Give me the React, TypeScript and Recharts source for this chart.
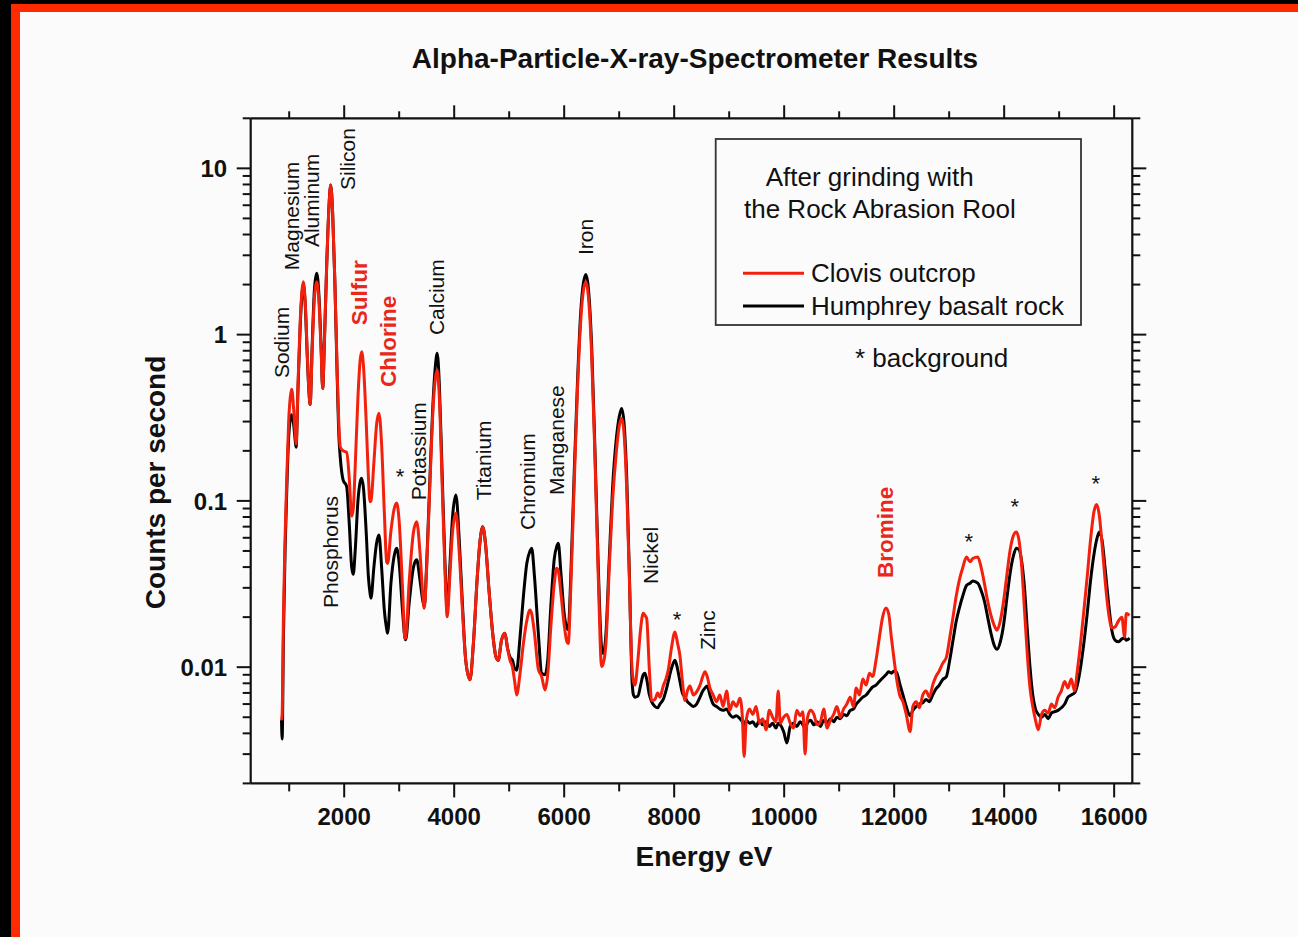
import React from 'react';
import { LineChart, Line, XAxis, YAxis, ReferenceDot } from 'recharts';

const FONT = '"Liberation Sans", Arial, Helvetica, sans-serif';
const RED = '#f2200c';
const LABEL_RED = '#e8281a';
const INK = '#111111';

const energyEv = [
  860, 872, 895, 925, 954, 990, 1020, 1045, 1080, 1110, 1125, 1160, 1200, 1230, 1256, 1290, 1330, 1360, 1380, 1420,
  1460, 1500, 1540, 1580, 1609, 1640, 1680, 1720, 1754, 1790, 1830, 1870, 1905, 1930, 1980, 2045, 2090, 2136, 2165, 2200,
  2250, 2290, 2318, 2350, 2400, 2440, 2469, 2487, 2540, 2590, 2632, 2680, 2730, 2772, 2790, 2850, 2910, 2954, 3000, 3060,
  3105, 3118, 3180, 3260, 3318, 3380, 3430, 3456, 3500, 3560, 3620, 3660, 3692, 3730, 3780, 3830, 3874, 3920, 3970, 4032,
  4090, 4150, 4210, 4287, 4350, 4420, 4470, 4518, 4570, 4630, 4700, 4760, 4801, 4860, 4923, 4970, 5015, 5060, 5100, 5136,
  5196, 5260, 5320, 5378, 5409, 5460, 5530, 5590, 5650, 5700, 5760, 5820, 5863, 5893, 5940, 6000, 6050, 6074, 6120, 6180,
  6240, 6300, 6350, 6396, 6440, 6500, 6560, 6620, 6681, 6710, 6760, 6820, 6880, 6950, 7000, 7045, 7090, 7140, 7190, 7226,
  7260, 7287, 7340, 7390, 7437, 7468, 7499, 7550, 7590, 7650, 7700, 7741, 7801, 7850, 7892, 7950, 8014, 8060, 8105, 8150,
  8196, 8240, 8287, 8350, 8408, 8470, 8520, 8560, 8600, 8650, 8710, 8770, 8830, 8890, 8953, 9010, 9070, 9130, 9196, 9240,
  9272, 9310, 9370, 9430, 9490, 9550, 9610, 9670, 9730, 9790, 9850, 9892, 9930, 9990, 10050, 10110, 10170, 10230, 10290, 10340,
  10380, 10420, 10480, 10540, 10600, 10660, 10720, 10780, 10840, 10900, 10960, 11020, 11080, 11140, 11200, 11260, 11310, 11370, 11430, 11490,
  11550, 11610, 11670, 11730, 11790, 11850, 11900, 11950, 12000, 12045, 12100, 12160, 12220, 12290, 12340, 12400, 12460, 12520, 12580, 12640,
  12700, 12760, 12820, 12880, 12950, 13010, 13070, 13130, 13190, 13250, 13315, 13380, 13430, 13520, 13580, 13640, 13700, 13760, 13820, 13870,
  13930, 13990, 14050, 14110, 14170, 14220, 14270, 14320, 14370, 14420, 14470, 14520, 14570, 14620, 14680, 14740, 14800, 14860, 14920, 14980,
  15040, 15100, 15160, 15220, 15280, 15330, 15390, 15450, 15510, 15570, 15630, 15680, 15730, 15780, 15840, 15900, 15960, 16020, 16080, 16140,
  16190, 16220, 16280,
];

const clovisCps = [
  0.0048, 0.0052, 0.02, 0.06, 0.13, 0.3, 0.42, 0.47, 0.36, 0.25, 0.22, 0.5, 1.2, 1.8, 2.08, 1.6, 0.75, 0.45, 0.38, 0.85,
  1.7, 2.08, 1.6, 0.8, 0.475, 0.9, 2.5, 5.6, 7.94, 5.4, 2.1, 0.65, 0.28, 0.21, 0.2, 0.196, 0.14, 0.081, 0.09, 0.16,
  0.42, 0.7, 0.79, 0.65, 0.3, 0.14, 0.099, 0.1, 0.17, 0.29, 0.337, 0.22, 0.085, 0.043, 0.042, 0.066, 0.09, 0.097, 0.075, 0.03,
  0.0149, 0.015, 0.032, 0.065, 0.075, 0.048, 0.027, 0.0226, 0.04, 0.13, 0.38, 0.55, 0.61, 0.42, 0.13, 0.04, 0.0201, 0.035, 0.065, 0.0842,
  0.05, 0.022, 0.011, 0.0084, 0.014, 0.035, 0.058, 0.07, 0.055, 0.03, 0.016, 0.0115, 0.011, 0.0145, 0.016, 0.013, 0.011, 0.01, 0.0082, 0.0068,
  0.0091, 0.014, 0.019, 0.0221, 0.021, 0.016, 0.0097, 0.0088, 0.0073, 0.009, 0.018, 0.032, 0.0394, 0.038, 0.028, 0.018, 0.0142, 0.0139, 0.03, 0.12,
  0.45, 1.2, 1.85, 2.08, 1.7, 0.75, 0.18, 0.035, 0.0101, 0.0105, 0.014, 0.04, 0.1, 0.2, 0.28, 0.314, 0.25, 0.11, 0.03, 0.011,
  0.0082, 0.0078, 0.011, 0.017, 0.0211, 0.0205, 0.0197, 0.0095, 0.0063, 0.0064, 0.007, 0.0066, 0.0077, 0.0085, 0.0096, 0.013, 0.0163, 0.014, 0.0117, 0.0082,
  0.0063, 0.0072, 0.0077, 0.0068, 0.0071, 0.0078, 0.0088, 0.0094, 0.0088, 0.0075, 0.0068, 0.0062, 0.0068, 0.0058, 0.0072, 0.0055, 0.0062, 0.0058, 0.0065, 0.005,
  0.0029, 0.0048, 0.0056, 0.0052, 0.0058, 0.0046, 0.0049, 0.0042, 0.0055, 0.005, 0.0047, 0.0072, 0.0046, 0.005, 0.0052, 0.0046, 0.0043, 0.0055, 0.0051, 0.0054,
  0.003, 0.0049, 0.0055, 0.0052, 0.0045, 0.0047, 0.0056, 0.0043, 0.0048, 0.0052, 0.0058, 0.005, 0.0056, 0.006, 0.0066, 0.0058, 0.0075, 0.0068, 0.0085, 0.0078,
  0.0092, 0.0088, 0.011, 0.015, 0.02, 0.0227, 0.021, 0.015, 0.011, 0.0085, 0.0068, 0.0062, 0.0052, 0.0041, 0.0058, 0.0062, 0.0057, 0.0068, 0.0072, 0.0066,
  0.0078, 0.0088, 0.0095, 0.0105, 0.0115, 0.015, 0.02, 0.027, 0.034, 0.04, 0.046, 0.043, 0.045, 0.046, 0.04, 0.032, 0.025, 0.0205, 0.0178, 0.0167,
  0.019, 0.025, 0.036, 0.051, 0.062, 0.065, 0.058, 0.04, 0.022, 0.012, 0.0075, 0.0058, 0.0048, 0.0042, 0.0052, 0.0055, 0.0053, 0.006, 0.0057, 0.0066,
  0.0072, 0.0082, 0.0075, 0.0085, 0.0072, 0.0095, 0.014, 0.022, 0.035, 0.058, 0.085, 0.095, 0.082, 0.055, 0.032, 0.021, 0.0172, 0.0175, 0.019, 0.02,
  0.0152, 0.021, 0.0205,
];

const humphreyCps = [
  0.0048, 0.0037, 0.015, 0.05, 0.11, 0.24, 0.31, 0.33, 0.29, 0.23, 0.21, 0.47, 1.12, 1.7, 2.0, 1.55, 0.72, 0.45, 0.38, 0.9,
  1.9, 2.34, 1.75, 0.85, 0.475, 0.9, 2.5, 5.6, 7.94, 5.4, 2.1, 0.6, 0.24, 0.18, 0.134, 0.122, 0.075, 0.04, 0.0362, 0.05,
  0.1, 0.13, 0.137, 0.12, 0.065, 0.035, 0.028, 0.026, 0.04, 0.056, 0.0624, 0.04, 0.022, 0.017, 0.016, 0.032, 0.047, 0.0519, 0.042, 0.022,
  0.015, 0.0146, 0.024, 0.04, 0.0442, 0.033, 0.025, 0.0231, 0.042, 0.14, 0.42, 0.66, 0.774, 0.5, 0.15, 0.045, 0.022, 0.04, 0.08, 0.1085,
  0.06, 0.024, 0.011, 0.0084, 0.014, 0.035, 0.057, 0.07, 0.055, 0.03, 0.016, 0.0115, 0.011, 0.0145, 0.016, 0.013, 0.0115, 0.011, 0.0098, 0.0096,
  0.015, 0.027, 0.042, 0.05, 0.052, 0.035, 0.016, 0.0092, 0.009, 0.011, 0.024, 0.045, 0.053, 0.0556, 0.037, 0.021, 0.0172, 0.0168, 0.035, 0.14,
  0.5, 1.35, 2.05, 2.3, 1.9, 0.85, 0.2, 0.04, 0.013, 0.0121, 0.016, 0.045, 0.12, 0.24, 0.32, 0.36, 0.29, 0.13, 0.032, 0.0095,
  0.0068, 0.0066, 0.0067, 0.0078, 0.009, 0.0092, 0.0085, 0.0068, 0.0062, 0.0058, 0.0057, 0.006, 0.0064, 0.0072, 0.0082, 0.0098, 0.011, 0.0098, 0.0082, 0.007,
  0.0066, 0.0062, 0.006, 0.0058, 0.006, 0.0066, 0.0072, 0.0075, 0.0077, 0.0068, 0.006, 0.0058, 0.0056, 0.0055, 0.0056, 0.0052, 0.005, 0.0051, 0.0049, 0.0047,
  0.0045, 0.0048, 0.0046, 0.0047, 0.0044, 0.0048, 0.0045, 0.0047, 0.0044, 0.0046, 0.0043, 0.0046, 0.0045, 0.0041, 0.0035, 0.0044, 0.0046, 0.0044, 0.0047, 0.0045,
  0.0043, 0.0046, 0.0048, 0.0045, 0.0047, 0.0044, 0.0048, 0.0046, 0.0049, 0.0047, 0.005, 0.0049, 0.0052, 0.0051, 0.0055, 0.0056, 0.006, 0.0063, 0.0066, 0.0068,
  0.0072, 0.0076, 0.0078, 0.0082, 0.0086, 0.009, 0.0094, 0.0092, 0.0095, 0.0093, 0.008, 0.0068, 0.0058, 0.0051, 0.0055, 0.0058, 0.006, 0.0061, 0.0064, 0.0062,
  0.0068, 0.0074, 0.0078, 0.0084, 0.0088, 0.011, 0.0145, 0.019, 0.023, 0.027, 0.031, 0.032, 0.033, 0.032, 0.029, 0.025, 0.02, 0.016, 0.0135, 0.0128,
  0.0142, 0.018, 0.026, 0.037, 0.047, 0.052, 0.051, 0.043, 0.03, 0.017, 0.01, 0.0068, 0.0056, 0.0052, 0.005, 0.0052, 0.0049, 0.0053, 0.0054, 0.0055,
  0.0057, 0.006, 0.0066, 0.0068, 0.007, 0.0078, 0.01, 0.014, 0.021, 0.033, 0.047, 0.058, 0.065, 0.058, 0.038, 0.024, 0.0165, 0.0145, 0.0142, 0.0148,
  0.015, 0.0145, 0.015,
];

const xMajorTicks = [2000, 4000, 6000, 8000, 10000, 12000, 14000, 16000];
const xMinorTicks = [1000, 3000, 5000, 7000, 9000, 11000, 13000, 15000];
const yMajorTicks = [0.01, 0.1, 1, 10];
const yMinorTicks = [
  0.002, 0.003, 0.004, 0.005, 0.006, 0.007, 0.008, 0.009,
  0.02, 0.03, 0.04, 0.05, 0.06, 0.07, 0.08, 0.09,
  0.2, 0.3, 0.4, 0.5, 0.6, 0.7, 0.8, 0.9,
  2, 3, 4, 5, 6, 7, 8, 9, 20,
];

const elementNames = [
  'Sodium', 'Magnesium', 'Aluminum', 'Silicon', 'Sulfur', 'Chlorine', 'Calcium', 'Phosphorus', 'Potassium',
  'Titanium', 'Chromium', 'Manganese', 'Iron', 'Nickel', 'Zinc', 'Bromine',
];
const elementLabelEnergy = [851, 1033, 1414, 2069, 2287, 2814, 3687, 1742, 3342, 4524, 5342, 5869, 6396, 7578, 8614, 11850];
const elementLabelCount = [0.548, 2.44, 3.36, 7.41, 1.14, 0.484, 0.994, 0.0227, 0.101, 0.101, 0.0668, 0.1085, 3.01, 0.0316, 0.01268, 0.0344];
const elementHighlighted = [false, false, false, false, true, true, false, false, false, false, false, false, false, false, false, true];

const backgroundMarkEnergy = [3014, 8051, 13358, 14195, 15668];
const backgroundMarkCount = [0.149, 0.0206, 0.0607, 0.0985, 0.1355];

const data = energyEv.map((e, i) => ({ energy: e, clovis: clovisCps[i], humphrey: humphreyCps[i] }));
const xTicks = [...xMinorTicks, ...xMajorTicks].sort((a, b) => a - b);
const yTicks = [...yMinorTicks, ...yMajorTicks].sort((a, b) => a - b);

const AXIS_W = 2.2;

function BottomTick(props: any) {
  const { x, y, payload } = props;
  const v = payload.value;
  const major = xMajorTicks.includes(v);
  return (
    <g>
      <line x1={x} x2={x} y1={y} y2={y + (major ? 14 : 8)} stroke={INK} strokeWidth={2} />
      {major && (
        <text x={x} y={y + 42} textAnchor="middle" fontFamily={FONT} fontWeight="bold" fontSize={24} fill={INK}>
          {v}
        </text>
      )}
    </g>
  );
}

function TopTick(props: any) {
  const { x, y, payload } = props;
  const major = xMajorTicks.includes(payload.value);
  return <line x1={x} x2={x} y1={y} y2={y - (major ? 13 : 7)} stroke={INK} strokeWidth={2} />;
}

function LeftTick(props: any) {
  const { x, y, payload } = props;
  const v = payload.value;
  const major = yMajorTicks.includes(v);
  return (
    <g>
      <line x1={x} x2={x - (major ? 14 : 8)} y1={y} y2={y} stroke={INK} strokeWidth={2} />
      {major && (
        <text x={x - 23.5} y={y + 8.6} textAnchor="end" fontFamily={FONT} fontWeight="bold" fontSize={24} fill={INK}>
          {String(v)}
        </text>
      )}
    </g>
  );
}

function RightTick(props: any) {
  const { x, y, payload } = props;
  const major = yMajorTicks.includes(payload.value);
  return <line x1={x} x2={x + (major ? 14 : 8)} y1={y} y2={y} stroke={INK} strokeWidth={2} />;
}

export default function App() {
  return (
    <div
      style={{
        position: 'fixed',
        left: 0,
        top: 0,
        width: 1298,
        height: 937,
        background: '#000',
        overflow: 'hidden',
      }}
    >
      <div style={{ position: 'absolute', left: 11, top: 4, right: 0, bottom: 0, background: '#ff2a00' }} />
      <div style={{ position: 'absolute', left: 20, top: 12, right: 0, bottom: 0, background: '#fbfbfb' }} />
      <div style={{ position: 'absolute', left: 0, top: 0 }}>
        <LineChart
          width={1298}
          height={937}
          data={data}
          margin={{ top: 78.3, right: 105.7, bottom: 93.6, left: 150.7 }}
        >
          <XAxis
            dataKey="energy"
            type="number"
            domain={[300, 16330]}
            allowDataOverflow
            ticks={xTicks}
            interval={0}
            height={60}
            tickSize={0}
            tickMargin={0}
            tickLine={false}
            tick={<BottomTick />}
            axisLine={{ stroke: INK, strokeWidth: AXIS_W }}
          />
          <XAxis
            xAxisId="top"
            orientation="top"
            dataKey="energy"
            type="number"
            domain={[300, 16330]}
            allowDataOverflow
            ticks={xTicks}
            interval={0}
            height={40}
            tickSize={0}
            tickMargin={0}
            tickLine={false}
            tick={<TopTick />}
            axisLine={{ stroke: INK, strokeWidth: AXIS_W }}
          />
          <YAxis
            type="number"
            scale="log"
            domain={[0.002, 20]}
            allowDataOverflow
            ticks={yTicks}
            interval={0}
            width={100}
            tickSize={0}
            tickMargin={0}
            tickLine={false}
            tick={<LeftTick />}
            axisLine={{ stroke: INK, strokeWidth: AXIS_W }}
          />
          <YAxis
            yAxisId="right"
            orientation="right"
            type="number"
            scale="log"
            domain={[0.002, 20]}
            allowDataOverflow
            ticks={yTicks}
            interval={0}
            width={60}
            tickSize={0}
            tickMargin={0}
            tickLine={false}
            tick={<RightTick />}
            axisLine={{ stroke: INK, strokeWidth: AXIS_W }}
          />
          <Line
            xAxisId="top"
            yAxisId="right"
            dataKey="clovis"
            stroke="transparent"
            strokeWidth={0}
            dot={false}
            activeDot={false}
            isAnimationActive={false}
          />
          <Line
            dataKey="humphrey"
            name="Humphrey basalt rock"
            type="monotone"
            stroke="#000"
            strokeWidth={3}
            dot={false}
            activeDot={false}
            isAnimationActive={false}
          />
          <Line
            dataKey="clovis"
            name="Clovis outcrop"
            type="monotone"
            stroke={RED}
            strokeWidth={3}
            dot={false}
            activeDot={false}
            isAnimationActive={false}
          />
          {elementNames.map((name, i) => (
            <ReferenceDot
              key={name}
              x={elementLabelEnergy[i]}
              y={elementLabelCount[i]}
              r={0}
              ifOverflow="visible"
              shape={(p: any) => (
                <text
                  transform={`translate(${p.cx},${p.cy}) rotate(-90)`}
                  textAnchor="start"
                  dominantBaseline="central"
                  fontFamily={FONT}
                  fontSize={elementHighlighted[i] ? 22.5 : 21}
                  fontWeight={elementHighlighted[i] ? 'bold' : 'normal'}
                  fill={elementHighlighted[i] ? LABEL_RED : INK}
                >
                  {name}
                </text>
              )}
            />
          ))}
          {backgroundMarkEnergy.map((e, i) => (
            <ReferenceDot
              key={`bg-${e}`}
              x={e}
              y={backgroundMarkCount[i]}
              r={0}
              ifOverflow="visible"
              shape={(p: any) => (
                <text x={p.cx} y={p.cy + 12} textAnchor="middle" fontFamily={FONT} fontSize={22} fill={INK}>
                  *
                </text>
              )}
            />
          ))}
        </LineChart>
      </div>
      <svg
        width={1298}
        height={937}
        style={{ position: 'absolute', left: 0, top: 0, pointerEvents: 'none' }}
      >
        <text x={695} y={68} textAnchor="middle" fontFamily={FONT} fontWeight="bold" fontSize={28} fill={INK}>
          Alpha-Particle-X-ray-Spectrometer Results
        </text>
        <text
          transform="translate(155.7,482.5) rotate(-90)"
          textAnchor="middle"
          dominantBaseline="central"
          fontFamily={FONT}
          fontWeight="bold"
          fontSize={28}
          fill={INK}
        >
          Counts per second
        </text>
        <text x={704} y={866} textAnchor="middle" fontFamily={FONT} fontWeight="bold" fontSize={28} fill={INK}>
          Energy eV
        </text>
        <rect x={715.7} y={139} width={365.3} height={186} fill="none" stroke="#333" strokeWidth={1.8} />
        <text x={765.7} y={186} fontFamily={FONT} fontSize={26} fill={INK}>
          After grinding with
        </text>
        <text x={744} y={218} fontFamily={FONT} fontSize={26} fill={INK}>
          the Rock Abrasion Rool
        </text>
        <line x1={743} x2={804} y1={273.3} y2={273.3} stroke={RED} strokeWidth={3} />
        <text x={811} y={282} fontFamily={FONT} fontSize={26} fill={INK}>
          Clovis outcrop
        </text>
        <line x1={743} x2={804} y1={306} y2={306} stroke="#000" strokeWidth={3} />
        <text x={811} y={314.5} fontFamily={FONT} fontSize={26} fill={INK}>
          Humphrey basalt rock
        </text>
        <text x={855} y={367} fontFamily={FONT} fontSize={26} fill={INK}>
          * background
        </text>
      </svg>
    </div>
  );
}
